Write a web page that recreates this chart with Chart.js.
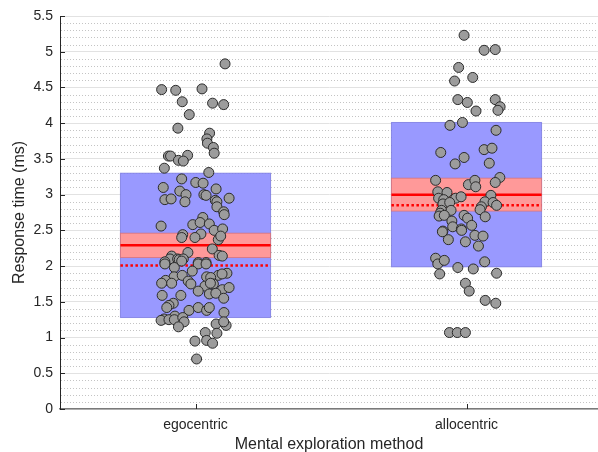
<!DOCTYPE html>
<html>
<head>
<meta charset="utf-8">
<script src="https://cdn.jsdelivr.net/npm/chart.js@4.4.1/dist/chart.umd.min.js"></script>
<style>
  html, body { margin: 0; padding: 0; background: #fff; }
  #wrap { width: 598px; height: 452px; }
</style>
</head>
<body>
<div id="wrap"><canvas id="chart" width="598" height="452"></canvas></div>
<script>
// categories and summary values per group
const categories = ['egocentric', 'allocentric'];
const sdHigh = [3.30, 4.01];
const sdLow = [1.28, 1.99];
const semHigh = [2.46, 3.23];
const semLow = [2.12, 2.77];
const means = [2.29, 3.00];
const medians = [2.01, 2.85];

// y tick values
const majorTicks = [0, 0.5, 1, 1.5, 2, 2.5, 3, 3.5, 4, 4.5, 5, 5.5];

// raw observations (horizontal jitter around the group, response time)
const egoJitter = [0.109, -0.125, -0.073, 0.024, -0.049, 0.063, 0.104, -0.023, -0.065, 0.052,
  0.042, 0.044, 0.066, 0.069, -0.100, -0.092, -0.029, -0.063, -0.045, -0.115,
  0.049, -0.051, 0.001, 0.028, -0.119, 0.076, -0.058, -0.035, 0.031, 0.039,
  -0.113, -0.090, -0.039, 0.073, 0.079, 0.124, 0.079, 0.104, 0.106, -0.127,
  0.027, -0.010, 0.017, 0.051, 0.069, 0.100, -0.047, -0.051, 0.020, -0.002,
  0.084, 0.093, 0.062, 0.087, 0.099, -0.028, -0.088, -0.094, -0.066, -0.060,
  -0.045, -0.113, 0.010, 0.039, -0.113, -0.078, -0.051, 0.010, 0.039, -0.012,
  0.116, 0.084, 0.098, 0.041, 0.056, -0.079, -0.049, -0.110, -0.125, -0.088,
  -0.027, -0.017, 0.035, 0.066, 0.055, 0.099, 0.124, 0.010, 0.051, 0.075,
  -0.123, -0.054, 0.104, -0.082, -0.098, -0.106, -0.024, 0.010, 0.041, 0.051,
  0.105, -0.076, -0.116, -0.127, -0.098, -0.078, -0.047, -0.042, -0.063, 0.076,
  0.113, 0.104, 0.036, 0.079, -0.002, 0.041, 0.063, 0.004];
const egoValues = [4.83, 4.47, 4.46, 4.48, 4.30, 4.28, 4.26, 4.12, 3.93, 3.86,
  3.78, 3.72, 3.66, 3.58, 3.54, 3.54, 3.55, 3.48, 3.47, 3.37,
  3.31, 3.22, 3.17, 3.16, 3.10, 3.08, 3.05, 3.00, 3.00, 2.99,
  2.93, 2.94, 2.90, 2.92, 2.90, 2.95, 2.83, 2.76, 2.72, 2.56,
  2.68, 2.58, 2.61, 2.59, 2.50, 2.52, 2.44, 2.40, 2.45, 2.40,
  2.37, 2.42, 2.24, 2.15, 2.14, 2.19, 2.14, 2.10, 2.10, 2.09,
  2.10, 2.06, 2.05, 2.05, 2.03, 1.98, 2.07, 2.03, 2.03, 1.93,
  1.90, 1.87, 1.89, 1.85, 1.84, 1.85, 1.87, 1.80, 1.76, 1.76,
  1.79, 1.75, 1.72, 1.75, 1.76, 1.67, 1.70, 1.65, 1.61, 1.62,
  1.59, 1.59, 1.55, 1.48, 1.45, 1.42, 1.38, 1.42, 1.38, 1.42,
  1.35, 1.30, 1.26, 1.24, 1.25, 1.25, 1.28, 1.22, 1.15, 1.19,
  1.17, 1.22, 1.07, 1.06, 0.95, 0.96, 0.92, 0.70];

const alloJitter = [-0.009, 0.065, 0.106, -0.029, -0.044, 0.023, -0.032, 0.003, 0.106, 0.124,
  0.116, 0.035, -0.015, -0.061, 0.109, -0.095, 0.065, 0.094, -0.009, -0.042,
  0.084, -0.114, 0.123, 0.106, 0.007, 0.031, 0.034, -0.106, -0.072, -0.103,
  -0.084, -0.040, -0.020, 0.090, -0.087, -0.062, 0.068, 0.055, 0.050, 0.098,
  0.111, -0.092, -0.057, -0.097, -0.101, -0.082, -0.009, 0.004, 0.019, 0.069,
  -0.054, -0.051, -0.019, -0.087, -0.089, -0.067, -0.018, 0.031, 0.061, -0.004,
  0.044, -0.114, -0.106, -0.082, -0.032, 0.025, 0.067, -0.099, 0.111, -0.004,
  0.010, 0.069, 0.108, -0.063, -0.034, -0.004];
const alloValues = [5.23, 5.02, 5.03, 4.78, 4.59, 4.64, 4.33, 4.29, 4.33, 4.23,
  4.18, 4.17, 4.01, 3.97, 3.90, 3.59, 3.63, 3.65, 3.52, 3.43,
  3.44, 3.20, 3.24, 3.17, 3.14, 3.20, 3.11, 3.04, 3.03, 2.95,
  2.93, 2.95, 2.97, 2.99, 2.87, 2.89, 2.90, 2.83, 2.79, 2.89,
  2.85, 2.78, 2.78, 2.74, 2.70, 2.71, 2.71, 2.67, 2.57, 2.69,
  2.63, 2.55, 2.52, 2.49, 2.48, 2.37, 2.50, 2.43, 2.42, 2.34,
  2.28, 2.11, 2.03, 2.08, 1.98, 1.96, 2.06, 1.89, 1.90, 1.76,
  1.65, 1.52, 1.48, 1.07, 1.07, 1.07];

const boxHalf = 0.277;
const textColor = '#262626';
const fontFamily = '"Liberation Sans", Arial, Helvetica, sans-serif';

function toPoints(group, jitter, values) {
  return values.map((v, i) => ({ x: group + jitter[i], y: v }));
}

// draws minor grid, SD boxes, SEM bands, mean and median lines under the points
const boxPlugin = {
  id: 'notBoxes',
  beforeDatasetsDraw(chart) {
    const { ctx, chartArea: a, scales: { x, y } } = chart;
    ctx.save();
    // minor dotted grid every 0.1
    ctx.strokeStyle = '#c4c4c4';
    ctx.lineWidth = 1;
    ctx.setLineDash([1, 2]);
    for (let k = 1; k < 55; k++) {
      if (k % 5 === 0) continue;
      const py = Math.round(y.getPixelForValue(k / 10)) + 0.5;
      ctx.beginPath();
      ctx.moveTo(a.left + 1, py);
      ctx.lineTo(a.right, py);
      ctx.stroke();
    }
    ctx.setLineDash([]);

    categories.forEach((c, i) => {
      const x0 = x.getPixelForValue(i + 1 - boxHalf);
      const x1 = x.getPixelForValue(i + 1 + boxHalf);
      // SD box
      let t = y.getPixelForValue(sdHigh[i]);
      let b = y.getPixelForValue(sdLow[i]);
      ctx.fillStyle = 'rgb(153,153,255)';
      ctx.fillRect(x0, t, x1 - x0, b - t);
      ctx.strokeStyle = 'rgba(110,110,220,0.7)';
      ctx.lineWidth = 1;
      ctx.strokeRect(x0, t, x1 - x0, b - t);
      // SEM band
      t = y.getPixelForValue(semHigh[i]);
      b = y.getPixelForValue(semLow[i]);
      ctx.fillStyle = 'rgb(255,153,153)';
      ctx.fillRect(x0, t, x1 - x0, b - t);
      ctx.strokeStyle = 'rgba(220,110,110,0.7)';
      ctx.strokeRect(x0, t, x1 - x0, b - t);
      // mean
      ctx.strokeStyle = '#ff0000';
      ctx.lineWidth = 2.5;
      let py = y.getPixelForValue(means[i]);
      ctx.beginPath();
      ctx.moveTo(x0, py);
      ctx.lineTo(x1, py);
      ctx.stroke();
      // median
      ctx.setLineDash([2.5, 2.5]);
      py = y.getPixelForValue(medians[i]);
      ctx.beginPath();
      ctx.moveTo(x0, py);
      ctx.lineTo(x1, py);
      ctx.stroke();
      ctx.setLineDash([]);
    });
    ctx.restore();
  },
  afterDraw(chart) {
    // inward tick marks like the original axes
    const { ctx, chartArea: a, scales: { x, y } } = chart;
    ctx.save();
    ctx.strokeStyle = textColor;
    ctx.lineWidth = 1;
    majorTicks.forEach(v => {
      const py = Math.round(y.getPixelForValue(v)) + 0.5;
      ctx.beginPath();
      ctx.moveTo(a.left, py);
      ctx.lineTo(a.left + 5, py);
      ctx.stroke();
    });
    categories.forEach((c, i) => {
      const px = Math.round(x.getPixelForValue(i + 1)) + 0.5;
      ctx.beginPath();
      ctx.moveTo(px, a.bottom);
      ctx.lineTo(px, a.bottom - 5);
      ctx.stroke();
    });
    ctx.restore();
  }
};

const pointStyle = {
  type: 'scatter',
  pointRadius: 5,
  pointHoverRadius: 5,
  pointBackgroundColor: '#9c9c9c',
  pointBorderColor: '#2b2b2b',
  pointBorderWidth: 1
};

new Chart(document.getElementById('chart').getContext('2d'), {
  type: 'scatter',
  data: {
    datasets: [
      Object.assign({ label: categories[0], data: toPoints(1, egoJitter, egoValues) }, pointStyle),
      Object.assign({ label: categories[1], data: toPoints(2, alloJitter, alloValues) }, pointStyle)
    ]
  },
  options: {
    responsive: false,
    animation: false,
    layout: { autoPadding: false, padding: { top: 16, right: 0, left: 0, bottom: 0 } },
    plugins: {
      legend: { display: false },
      tooltip: { enabled: false }
    },
    scales: {
      x: {
        type: 'linear',
        min: 0.5,
        max: 2.4852,
        afterBuildTicks: axis => { axis.ticks = categories.map((c, i) => ({ value: i + 1 })); },
        afterFit: s => { s.height = 43; },
        grid: { display: true, drawOnChartArea: false, drawTicks: false },
        border: { display: true, color: '#7a7a7a', width: 1.5 },
        ticks: {
          padding: 8,
          color: textColor,
          font: { family: fontFamily, size: 14 },
          callback: v => categories[v - 1] || ''
        },
        title: {
          display: true,
          text: 'Mental exploration method',
          color: textColor,
          font: { family: fontFamily, size: 16, lineHeight: 1 },
          padding: { top: 0, bottom: -1 }
        }
      },
      y: {
        min: 0,
        max: 5.5,
        afterBuildTicks: axis => { axis.ticks = majorTicks.map(v => ({ value: v })); },
        afterFit: s => { s.width = 60; },
        grid: { color: '#e2e2e2', lineWidth: 1, drawTicks: false },
        border: { display: true, color: textColor, width: 1 },
        ticks: {
          padding: 7,
          color: textColor,
          font: { family: fontFamily, size: 14 },
          callback: v => String(v)
        },
        title: {
          display: true,
          text: 'Response time (ms)',
          color: textColor,
          font: { family: fontFamily, size: 16, lineHeight: 1 },
          padding: { top: 12, bottom: 0 }
        }
      }
    }
  },
  plugins: [boxPlugin]
});
</script>
</body>
</html>
